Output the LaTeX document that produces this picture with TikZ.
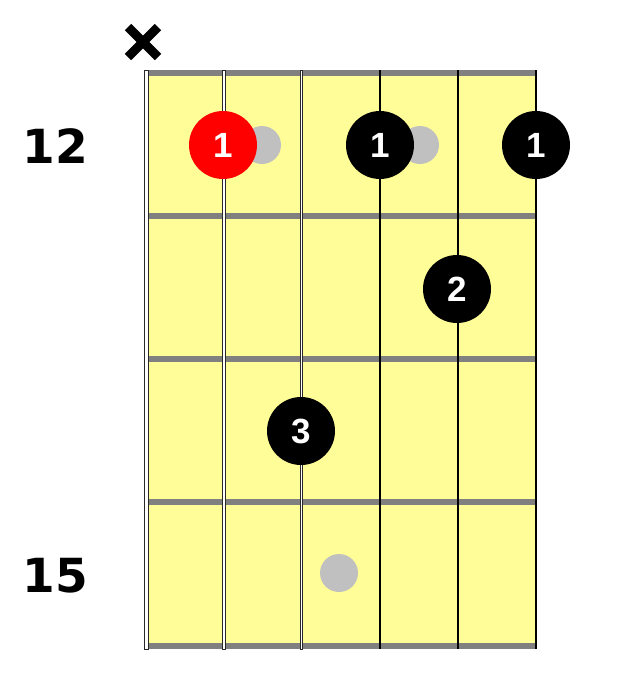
\documentclass[tikz,border=0pt]{standalone}
\usepackage{fontspec}
\usetikzlibrary{calc}
\newfontfamily\dejavu{DejaVu Sans}
\newfontfamily\libsans{Liberation Sans}
\definecolor{board}{RGB}{255,253,152}
\definecolor{fretgray}{RGB}{128,128,128}
\definecolor{dotgray}{RGB}{192,192,192}
\definecolor{stringedge}{RGB}{40,40,40}
\definecolor{fingerred}{RGB}{255,0,0}
\tikzset{
  fretbar/.style={fill=fretgray, draw=none},
  woundstring/.style={fill=white, draw=stringedge, line width=0.9pt},
  plainstring/.style={draw=black, line width=1.1pt},
  markerdot/.style={circle, fill=dotgray, draw=none, minimum size=38pt, inner sep=0pt},
  finger/.style={circle, fill=black, draw=none, minimum size=68pt, inner sep=0pt,
    text=white, font=\libsans\bfseries\fontsize{35}{35}\selectfont},
  rootfinger/.style={finger, fill=fingerred},
  fretnum/.style={font=\dejavu\bfseries\fontsize{47}{47}\selectfont, inner sep=0pt},
  mutemark/.style={line width=9pt, draw=black}
}
\begin{document}
\begin{tikzpicture}[x=1pt,y=-1pt]
\useasboundingbox (0,0) rectangle (631,678);
% fretboard
\fill[board] (148,73) rectangle (536.5,646);
% frets
\foreach \fy in {73,216,359,502,646}
  \fill[fretbar] (148,\fy-3) rectangle (537,\fy+3);
% strings
\draw[woundstring] (144.5,70) rectangle (148.5,649);
\draw[woundstring] (222.2,70) rectangle (225.8,649);
\draw[woundstring] (300.2,70) rectangle (302.9,649);
\draw[plainstring] (380,70) -- (380,649);
\draw[plainstring] (458,70) -- (458,649);
\draw[plainstring] (536,70) -- (536,649);
% mute mark
\coordinate (mx) at (143,42);
\draw[mutemark] ($(mx)+(-15,-15)$) -- ($(mx)+(15,15)$);
\draw[mutemark] ($(mx)+(-15,15)$) -- ($(mx)+(15,-15)$);
% fret numbers
\node[fretnum] (f12) at (55.5,146) {12};
\node[fretnum] (f15) at (55.5,576) {15};
% scale marker dots
\node[markerdot] (g1) at (262,145) {};
\node[markerdot] (g2) at (420,145) {};
\node[markerdot] (g3) at (339,573) {};
% fingers
\node[rootfinger] (r1) at (223,145) {1};
\node[finger] (b1) at (380,145) {1};
\node[finger] (b2) at (536,145) {1};
\node[finger] (b3) at (457,289) {2};
\node[finger] (b4) at (301,431) {3};
\end{tikzpicture}
\end{document}
